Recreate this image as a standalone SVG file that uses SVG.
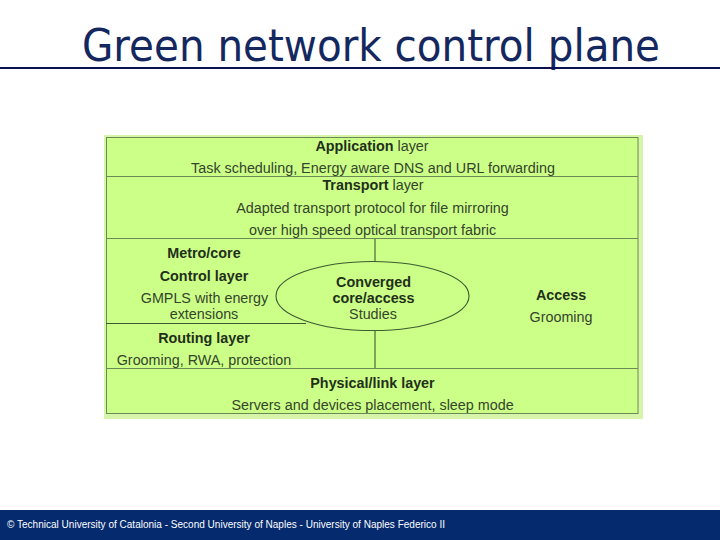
<svg xmlns="http://www.w3.org/2000/svg" width="720" height="540" viewBox="0 0 720 540">
<style>
text{font-family:"Liberation Sans",Arial,sans-serif;font-size:14.35px;fill:#35452c;text-anchor:middle}
.b{font-weight:bold;fill:#222f1a}
.ln{stroke:#6b8a56;stroke-width:1;fill:none}
.dk{stroke:#3d5a30;stroke-width:1.1;fill:none}
</style>
<rect width="720" height="540" fill="#fff"/>
<text id="title" x="371" y="61" style="font-family:'DejaVu Sans',sans-serif;font-size:44px;fill:#14285f" textLength="578" lengthAdjust="spacingAndGlyphs">Green network control plane</text>
<rect x="0" y="67" width="720" height="2" fill="#0a1050"/>
<g id="panel">
<rect x="104" y="135" width="539" height="284" fill="#d6f5a8"/>
<rect x="106.500" y="137.500" width="531.500" height="276" fill="#ccff88" stroke="#6b8a56" stroke-width="1"/>
</g>
<g id="connectors">
<path class="ln" d="M106 176.500H638M106 238.500H638M106 368.500H638"/>
<path class="dk" d="M106 323.500H306M375 239V262M375 331V368"/>
</g>
<g id="ellipse"><ellipse class="dk" cx="372.500" cy="296" rx="96.500" ry="34.500" fill="#ccff88"/></g>
<g id="application"><text x="372" y="150.500"><tspan class="b">Application</tspan> layer</text><text x="373" y="172.500">Task scheduling, Energy aware DNS and URL forwarding</text></g>
<g id="transport"><text x="373" y="189.500"><tspan class="b">Transport</tspan> layer</text><text x="372.500" y="212.500">Adapted transport protocol for file mirroring</text><text x="372.500" y="234.500">over high speed optical transport fabric</text></g>
<g id="metro"><text class="b" x="204" y="258">Metro/core</text><text class="b" x="204" y="280.500">Control layer</text><text x="204.500" y="302.500">GMPLS with energy</text><text x="204" y="318.500">extensions</text></g>
<g id="converged"><text class="b" x="373.500" y="286.500">Converged</text><text class="b" x="373.500" y="302.500">core/access</text><text x="373" y="318.500">Studies</text></g>
<g id="access"><text class="b" x="561" y="299.500">Access</text><text x="561" y="322">Grooming</text></g>
<g id="routing"><text class="b" x="204" y="342.500">Routing layer</text><text x="204" y="364.500">Grooming, RWA, protection</text></g>
<g id="physical"><text class="b" x="372.500" y="387.500">Physical/link layer</text><text x="372.500" y="409.500">Servers and devices placement, sleep mode</text></g>
<rect x="0" y="510" width="720" height="30" fill="#052a6e"/>
<text id="footer" x="7" y="528" style="font-size:10px;fill:#fff;text-anchor:start" textLength="438">© Technical University of Catalonia - Second University of Naples - University of Naples Federico II</text>
</svg>
